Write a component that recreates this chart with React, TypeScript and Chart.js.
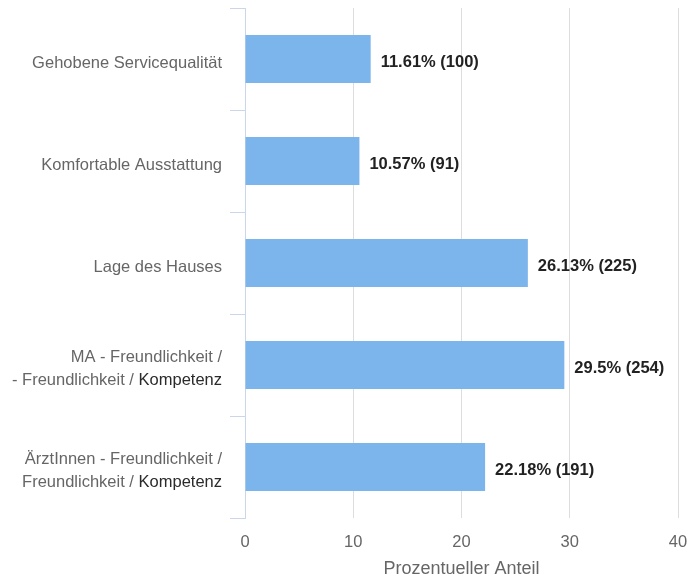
import React, { useEffect, useRef } from "react";
import { Chart, registerables } from "chart.js";

Chart.register(...registerables);

const categories: string[][] = [
  ["Gehobene Servicequalität"],
  ["Komfortable Ausstattung"],
  ["Lage des Hauses"],
  ["MA - Freundlichkeit /", "- Freundlichkeit / **Kompetenz**"],
  ["ÄrztInnen - Freundlichkeit /", "Freundlichkeit / **Kompetenz**"],
];
const percentages: number[] = [11.61, 10.57, 26.13, 29.5, 22.18];
const counts: number[] = [100, 91, 225, 254, 191];
const xTicks: number[] = [0, 10, 20, 30, 40];
const axisTitle = "Prozentueller Anteil";

const FONT = "'Liberation Sans', Arial, Helvetica, sans-serif";

const labelPlugin = {
  id: "customLabels",
  afterDraw(chart: any) {
    const ctx = chart.ctx;
    const yScale = chart.scales.y;
    const meta = chart.getDatasetMeta(0);
    ctx.save();
    categories.forEach((lines, i) => {
      const cy = yScale.getPixelForValue(i) + 4;
      lines.forEach((line, li) => {
        const y = cy + (li - (lines.length - 1) / 2) * 23;
        const parts = line.split("**");
        let x = 222;
        ctx.textBaseline = "middle";
        ctx.textAlign = "right";
        ctx.font = `16.5px ${FONT}`;
        for (let p = parts.length - 1; p >= 0; p--) {
          const strong = p % 2 === 1;
          ctx.fillStyle = strong ? "#2b2b2b" : "#666666";
          ctx.fillText(parts[p], x, y);
          x -= ctx.measureText(parts[p]).width;
        }
      });
    });
    ctx.font = `bold 16.5px ${FONT}`;
    ctx.fillStyle = "#222222";
    ctx.textAlign = "left";
    ctx.textBaseline = "middle";
    meta.data.forEach((bar: any, i: number) => {
      ctx.fillText(`${percentages[i]}% (${counts[i]})`, bar.x + 10, bar.y + 3);
    });
    ctx.restore();
  },
};

export default function App() {
  const ref = useRef<HTMLCanvasElement>(null);
  useEffect(() => {
    document.body.style.margin = "0";
    const chart = new Chart(ref.current!, {
      type: "bar",
      data: {
        labels: categories.map((c) => c.join(" ").replace(/\*\*/g, "")),
        datasets: [
          {
            data: percentages,
            backgroundColor: "#7cb5ec",
            borderWidth: 0,
            barPercentage: 0.47,
            categoryPercentage: 1,
          },
        ],
      },
      options: {
        indexAxis: "y",
        animation: false,
        responsive: false,
        layout: { padding: { top: 8, right: 11, left: 0, bottom: 0 } },
        plugins: { legend: { display: false }, tooltip: { enabled: false } },
        scales: {
          x: {
            min: xTicks[0],
            max: xTicks[xTicks.length - 1],
            afterBuildTicks: (s: any) => {
              s.ticks = xTicks.map((v) => ({ value: v }));
            },
            afterFit: (s: any) => {
              s.height = 60;
              s.paddingRight = 0;
              s.paddingLeft = 0;
            },
            grid: {
              color: "#dddddd",
              drawTicks: false,
              tickLength: 0,
            },
            border: { display: false },
            ticks: {
              color: "#666666",
              font: { size: 16.5, family: FONT },
              padding: 15,
            },
            title: {
              display: true,
              text: axisTitle,
              color: "#666666",
              font: { size: 18, family: FONT },
              padding: { top: 0, bottom: -2 },
            },
          },
          y: {
            afterFit: (s: any) => {
              s.width = 245;
            },
            grid: {
              offset: true,
              drawOnChartArea: false,
              drawTicks: true,
              tickLength: 15,
              color: "#ccd6eb",
            },
            border: { color: "#ccd6eb", width: 1 },
            ticks: { display: false },
          },
        },
      },
      plugins: [labelPlugin],
    });
    return () => chart.destroy();
  }, []);
  return <canvas ref={ref} width={689} height={578} style={{ display: "block" }} />;
}
